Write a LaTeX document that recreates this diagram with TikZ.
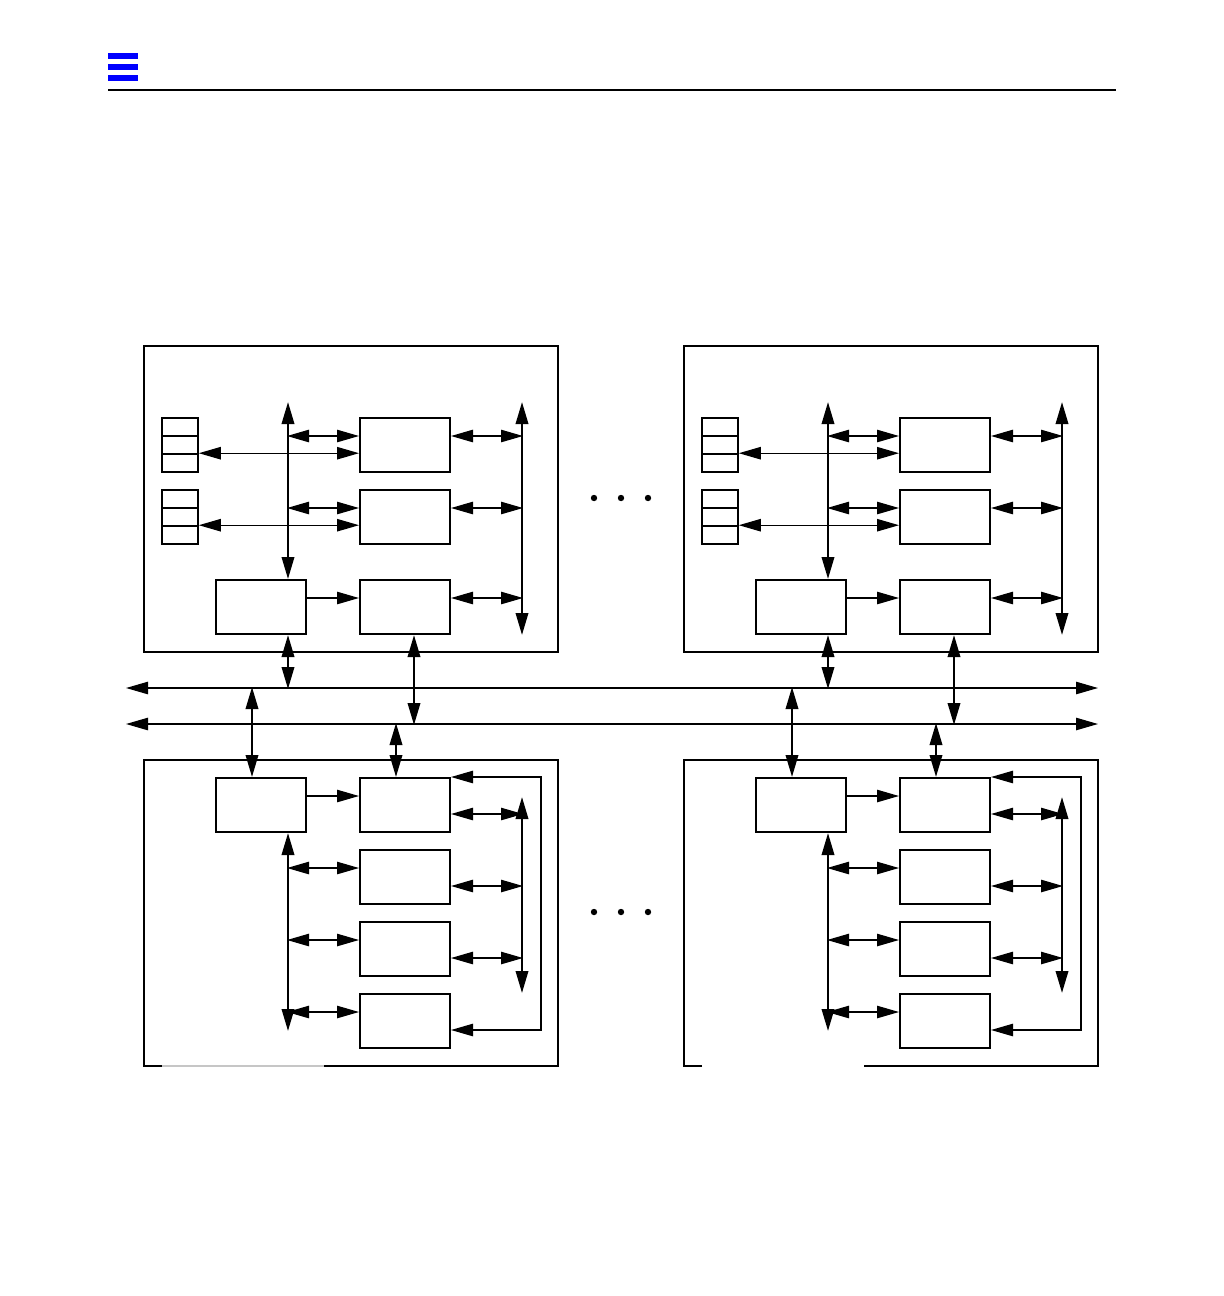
\documentclass[tikz,border=0pt]{standalone}
\usetikzlibrary{arrows.meta}
\begin{document}
\begin{tikzpicture}[x=0.5pt,y=-0.5pt,
    >={Triangle[length=11pt,width=6.2pt]},
    box/.style={draw,line width=1pt,minimum width=45pt,minimum height=27pt,inner sep=0pt},
    cell/.style={draw,line width=0.8pt,minimum width=18pt,minimum height=9pt,inner sep=0pt},
    link/.style={line width=0.65pt},
    bus/.style={line width=1.15pt},
    frame/.style={line width=0.7pt}]
    \useasboundingbox (0,0) rectangle (1224,1296);

    % page header
    \foreach \y in {53,64,75}
        \fill[blue] (108,\y) rectangle (138,\y+6);
    \draw[line width=0.6pt] (108,90) -- (1116,90);

    % system buses
    \coordinate (busAw) at (126,688);
    \coordinate (busAe) at (1098,688);
    \coordinate (busBw) at (126,724);
    \coordinate (busBe) at (1098,724);
    \draw[link,<->] (busAw) -- (busAe);
    \draw[link,<->] (busBw) -- (busBe);

    \foreach \side/\dx/\gapop in {l/0/0.45,r/540/0} {
    \begin{scope}[shift={(\dx,0)}]
        % upper board
        \draw[frame] (144,346) rectangle (558,652);
        \coordinate (lbus\side) at (288,402);
        \coordinate (rbus\side) at (522,402);
        \node[box] (tbox1\side) at (405,445) {};
        \node[box] (tbox2\side) at (405,517) {};
        \node[box] (tbox3\side) at (261,607) {};
        \node[box] (tbox4\side) at (405,607) {};
        \foreach \c/\y in {a/427,b/445,c/463}
            \node[cell] (rega\c\side) at (180,\y) {};
        \foreach \c/\y in {a/499,b/517,c/535}
            \node[cell] (regb\c\side) at (180,\y) {};

        \draw[bus,<->] (lbus\side) -- (lbus\side |- tbox3\side.north);
        \draw[bus,<->] (rbus\side) -- (rbus\side |- tbox4\side.south);
        \foreach \n in {1,2} {
            \draw[link,<->] ([yshift=4.5pt]tbox\n\side.west) -- ++(-72,0);
            \draw[link,<->] ([yshift=4.5pt]tbox\n\side.east) -- ++(72,0);
        }
        \draw[link,<->] (regac\side.north east) -- (regac\side.north east -| tbox1\side.west);
        \draw[link,<->] (regbc\side.north east) -- (regbc\side.north east -| tbox2\side.west);
        \draw[link,->] ([yshift=4.5pt]tbox3\side.east) -- ([yshift=4.5pt]tbox4\side.west);
        \draw[link,<->] ([yshift=4.5pt]tbox4\side.east) -- ++(72,0);
        \draw[bus,<->] (lbus\side |- tbox3\side.south) -- ++(0,54);
        \draw[bus,<->] ([xshift=4.5pt]tbox4\side.south) -- ++(0,90);

        % lower board
        \draw[frame] (162,1066) -- (144,1066) -- (144,760) -- (558,760) -- (558,1066) -- (324,1066);
        \draw[frame,gray,opacity=\gapop] (162,1066) -- (324,1066);
        \coordinate (rbusb\side) at (522,797);
        \node[box] (bbox1\side) at (261,805) {};
        \node[box] (bbox2\side) at (405,805) {};
        \node[box] (bbox3\side) at (405,877) {};
        \node[box] (bbox4\side) at (405,949) {};
        \node[box] (bbox5\side) at (405,1021) {};

        \draw[bus,<->] ([xshift=-4.5pt]bbox1\side.north) -- ++(0,-90);
        \draw[bus,<->] ([xshift=-4.5pt]bbox2\side.north) -- ++(0,-54);
        \draw[link,->] ([yshift=4.5pt]bbox1\side.east) -- ([yshift=4.5pt]bbox2\side.west);
        \draw[bus,<->] ([xshift=13.5pt]bbox1\side.south) -- ++(0,198);
        \foreach \n in {3,4,5}
            \draw[link,<->] ([yshift=4.5pt]bbox\n\side.west) -- ++(-72,0);
        \draw[bus,<->] (rbusb\side) -- ++(0,196);
        \foreach \n in {2,3,4}
            \draw[link,<->] ([yshift=-4.5pt]bbox\n\side.east) -- ++(72,0);
        \draw[link,<->] (bbox2\side.north east) -- ++(90,0) |- ([yshift=-4.5pt]bbox5\side.east);
    \end{scope}
    }

    % more boards
    \foreach \y in {498,912}
        \foreach \x in {594,621,648}
            \fill (\x,\y) circle[radius=1.6pt];
\end{tikzpicture}
\end{document}
